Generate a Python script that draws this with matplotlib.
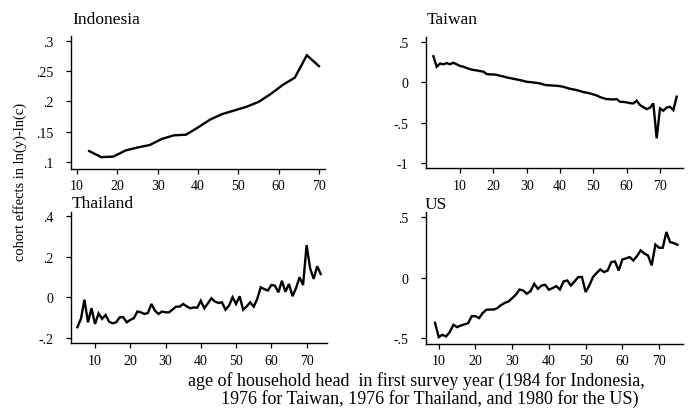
import matplotlib
matplotlib.use("Agg")
import matplotlib.pyplot as plt
import numpy as np

# ---------------- data ----------------
indonesia_age = [13, 16, 19, 22, 25, 28, 31, 34, 37, 40, 43, 46, 49, 52, 55, 58, 61, 64, 67, 70]
indonesia_val = [0.118, 0.108, 0.109, 0.119, 0.124, 0.128, 0.138, 0.144, 0.145, 0.157,
                 0.170, 0.179, 0.185, 0.191, 0.199, 0.212, 0.227, 0.239, 0.276, 0.258]

taiwan_age = list(range(2, 76))
taiwan_val = [0.32, 0.19, 0.23, 0.22, 0.235, 0.22, 0.24, 0.22, 0.20, 0.19,
              0.175, 0.16, 0.15, 0.145, 0.136, 0.13, 0.10, 0.095, 0.095, 0.09,
              0.078, 0.07, 0.058, 0.05, 0.041, 0.033, 0.025, 0.015, 0.004, 0.0,
              -0.004, -0.01, -0.016, -0.03, -0.037, -0.04, -0.043, -0.045, -0.05, -0.058,
              -0.07, -0.082, -0.09, -0.099, -0.11, -0.123, -0.13, -0.14, -0.152, -0.165,
              -0.185, -0.198, -0.21, -0.212, -0.214, -0.21, -0.243, -0.245, -0.25, -0.26,
              -0.263, -0.23, -0.284, -0.31, -0.333, -0.317, -0.263, -0.695, -0.325, -0.354,
              -0.313, -0.305, -0.346, -0.18]

thailand_age = list(range(5, 75))
thailand_val = [-0.147, -0.106, -0.012, -0.123, -0.054, -0.131, -0.079, -0.106, -0.087, -0.12,
                -0.128, -0.123, -0.098, -0.098, -0.123, -0.111, -0.103, -0.07, -0.074, -0.082,
                -0.077, -0.033, -0.066, -0.082, -0.07, -0.074, -0.074, -0.06, -0.046, -0.046,
                -0.033, -0.045, -0.054, -0.05, -0.051, -0.017, -0.054, -0.03, -0.005, -0.021,
                -0.028, -0.025, -0.061, -0.041, 0.0, -0.033, 0.005, -0.061, -0.045, -0.025,
                -0.046, -0.008, 0.049, 0.04, 0.033, 0.06, 0.057, 0.024, 0.081, 0.027,
                0.065, 0.005, 0.045, 0.098, 0.06, 0.256, 0.142, 0.09, 0.152, 0.114]

us_age = list(range(9, 76))
us_val = [-0.372, -0.49, -0.471, -0.485, -0.449, -0.388, -0.408, -0.394, -0.385, -0.375,
          -0.317, -0.317, -0.333, -0.29, -0.264, -0.262, -0.262, -0.25, -0.225, -0.207,
          -0.196, -0.168, -0.14, -0.097, -0.105, -0.132, -0.11, -0.05, -0.091, -0.064,
          -0.058, -0.099, -0.085, -0.069, -0.097, -0.03, -0.022, -0.064, -0.03, 0.006,
          0.006, -0.118, -0.064, 0.006, 0.04, 0.069, 0.047, 0.06, 0.13, 0.135,
          0.06, 0.151, 0.16, 0.171, 0.143, 0.18, 0.226, 0.2, 0.184, 0.102,
          0.275, 0.248, 0.248, 0.378, 0.295, 0.287, 0.273]

x_ticks = [10, 20, 30, 40, 50, 60, 70]
x_ticklabels = ["10", "20", "30", "40", "50", "60", "70"]

indonesia_yticks = [0.1, 0.15, 0.2, 0.25, 0.3]
indonesia_yticklabels = [".1", ".15", ".2", ".25", ".3"]
taiwan_yticks = [-1, -0.5, 0, 0.5]
taiwan_yticklabels = ["-1", "-.5", "0", ".5"]
thailand_yticks = [-0.2, 0, 0.2, 0.4]
thailand_yticklabels = ["-.2", "0", ".2", ".4"]
us_yticks = [-0.5, 0, 0.5]
us_yticklabels = ["-.5", "0", ".5"]

titles = ["Indonesia", "Taiwan", "Thailand", "US"]
ylabel = "cohort effects in ln(y)-ln(c)"
xlabel_line1 = "age of household head  in first survey year (1984 for Indonesia,"
xlabel_line2 = "1976 for Taiwan, 1976 for Thailand, and 1980 for the US)"

# ---------------- figure ----------------
W, H = 691, 410
plt.rcParams['font.family'] = ['Liberation Serif', 'DejaVu Serif']
fig = plt.figure(figsize=(W / 100, H / 100), dpi=100)
fig.patch.set_facecolor("white")


def px_axes(left, right, top, bottom):
    return fig.add_axes([left / W, 1 - bottom / H, (right - left) / W, (bottom - top) / H])


panels = [
    dict(box=(70.7, 325, 37, 170), x=indonesia_age, y=indonesia_val, xlim=(8.4, 71.5),
         ylim=(0.0885, 0.3077), yt=indonesia_yticks, ytl=indonesia_yticklabels,
         title=titles[0], tpos=(72, 20)),
    dict(box=(425.7, 683, 38.3, 169.3), x=taiwan_age, y=taiwan_val, xlim=(-0.3, 76.9),
         ylim=(-1.065, 0.554), yt=taiwan_yticks, ytl=taiwan_yticklabels,
         title=titles[1], tpos=(427, 20)),
    dict(box=(70.7, 326.7, 213.3, 344.3), x=thailand_age, y=thailand_val, xlim=(3.1, 75.7),
         ylim=(-0.226, 0.417), yt=thailand_yticks, ytl=thailand_yticklabels,
         title=titles[2], tpos=(72, 204)),
    dict(box=(425.5, 683.3, 212.7, 345), x=us_age, y=us_val, xlim=(6.4, 76.6),
         ylim=(-0.547, 0.546), yt=us_yticks, ytl=us_yticklabels,
         title=titles[3], tpos=(425, 205)),
]

for p in panels:
    ax = px_axes(*p["box"])
    ax.plot(p["x"], p["y"], color="black", lw=1.7, solid_joinstyle="miter")
    ax.set_xlim(*p["xlim"])
    ax.set_ylim(*p["ylim"])
    ax.set_xticks(x_ticks)
    ax.set_xticklabels(x_ticklabels, fontsize=10)
    ax.set_yticks(p["yt"])
    ax.set_yticklabels(p["ytl"], fontsize=10)
    for s in ("top", "right"):
        ax.spines[s].set_visible(False)
    for s in ("left", "bottom"):
        ax.spines[s].set_linewidth(1.0)
    ax.tick_params(axis="both", direction="out", length=3.5, width=0.9)
    ax.tick_params(axis="y", pad=9)
    ax.tick_params(axis="x", pad=4)
    ax.set_facecolor("white")
    fig.text(p["tpos"][0] / W, 1 - p["tpos"][1] / H, p["title"], fontsize=12.5,
             ha="left", va="center")

fig.text(20 / W, 1 - 181.7 / H, ylabel, rotation=90, fontsize=10.5,
         ha="center", va="center")
fig.text(416.5 / W, 1 - 381 / H, xlabel_line1, fontsize=13, ha="center", va="center")
fig.text(430 / W, 1 - 399 / H, xlabel_line2, fontsize=13, ha="center", va="center")

fig.savefig("out.png", dpi=100)
